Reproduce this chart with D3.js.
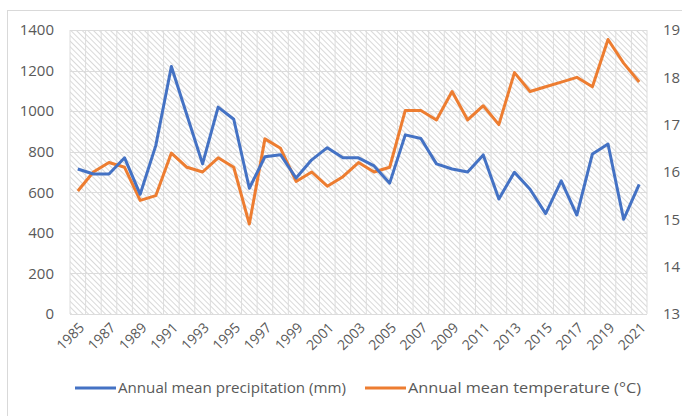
<!DOCTYPE html>
<html>
<head>
<meta charset="utf-8">
<script src="https://cdn.jsdelivr.net/npm/d3@7"></script>
<style>
  body { margin: 0; background: #fff; }
  text { font-family: "Open Sans", sans-serif; fill: #595959; }
</style>
</head>
<body>
<script>
var years = [1985,1986,1987,1988,1989,1990,1991,1992,1993,1994,1995,1996,1997,1998,1999,
             2000,2001,2002,2003,2004,2005,2006,2007,2008,2009,2010,2011,2012,2013,2014,
             2015,2016,2017,2018,2019,2020,2021];
var precipitation = [715,690,690,770,590,830,1220,980,740,1020,960,620,775,785,670,
                     760,820,770,770,730,645,883,865,740,715,700,784,567,699,615,
                     495,656,488,789,838,467,639];
var temperature = [15.6,16.0,16.2,16.1,15.4,15.5,16.4,16.1,16.0,16.3,16.1,14.9,16.7,16.5,15.8,
                   16.0,15.7,15.9,16.2,16.0,16.1,17.3,17.3,17.1,17.7,17.1,17.4,17.0,18.1,17.7,
                   17.8,17.9,18.0,17.8,18.8,18.3,17.9];
var leftTicks = [0,200,400,600,800,1000,1200,1400];
var rightTicks = [13,14,15,16,17,18,19];
var seriesNames = ["Annual mean precipitation (mm)", "Annual mean temperature (\u00B0C)"];
var colors = ["#4472C4", "#ED7D31"];

var width = 682, height = 416;
var plot = {left: 70, right: 647, top: 30, bottom: 314};

var svg = d3.select("body").append("svg")
            .attr("width", width)
            .attr("height", height);

// hatch pattern for plot background
var pat = svg.append("defs").append("pattern")
   .attr("id", "hatch")
   .attr("patternUnits", "userSpaceOnUse")
   .attr("width", 4).attr("height", 4)
   .attr("patternTransform", "rotate(-45)");
pat.append("line")
   .attr("x1", 0).attr("y1", 0).attr("x2", 0).attr("y2", 4)
   .attr("stroke", "#d2d2d2").attr("stroke-width", 1.7);

// chart border
svg.append("rect")
   .attr("x", 7.5).attr("y", 10.5)
   .attr("width", 700).attr("height", 420)
   .attr("fill", "none").attr("stroke", "#d9d9d9");

var x = d3.scaleBand()
          .domain(years)
          .range([plot.left, plot.right]);
var yL = d3.scaleLinear().domain([0, 1400]).range([plot.bottom, plot.top]);
var yR = d3.scaleLinear().domain([13, 19]).range([plot.bottom, plot.top]);

svg.append("rect")
   .attr("x", plot.left).attr("y", plot.top)
   .attr("width", plot.right - plot.left).attr("height", plot.bottom - plot.top)
   .attr("fill", "url(#hatch)");

// grid lines
var grid = svg.append("g").attr("stroke", "#dcdcdc").attr("stroke-width", 1);
grid.selectAll("line.h")
    .data(leftTicks)
    .enter().append("line")
    .attr("x1", plot.left).attr("x2", plot.right)
    .attr("y1", function(d) { return Math.round(yL(d)) + 0.5; })
    .attr("y2", function(d) { return Math.round(yL(d)) + 0.5; });
grid.selectAll("line.v")
    .data(years.concat(["end"]))
    .enter().append("line")
    .attr("x1", function(d) { return d === "end" ? plot.right : x(d); })
    .attr("x2", function(d) { return d === "end" ? plot.right : x(d); })
    .attr("y1", plot.top).attr("y2", plot.bottom);

// axes labels
svg.selectAll("text.yl")
   .data(leftTicks)
   .enter().append("text")
   .attr("x", 54)
   .attr("y", function(d) { return yL(d); })
   .attr("dy", "0.35em")
   .attr("text-anchor", "end")
   .attr("font-size", 15)
   .text(function(d) { return d; });

svg.selectAll("text.yr")
   .data(rightTicks)
   .enter().append("text")
   .attr("x", 663)
   .attr("y", function(d) { return yR(d); })
   .attr("dy", "0.35em")
   .attr("font-size", 15)
   .text(function(d) { return d; });

var cx = function(d) { return x(d) + x.bandwidth() / 2; };

svg.selectAll("text.xl")
   .data(years.filter(function(d, i) { return i % 2 === 0; }))
   .enter().append("text")
   .attr("transform", function(d) { return "translate(" + (cx(d) + 4) + "," + 325 + ") rotate(-45)"; })
   .attr("text-anchor", "end")
   .attr("dy", "0.35em")
   .attr("font-size", 14)
   .text(function(d) { return d; });

// lines
var lineL = d3.line()
   .x(function(d, i) { return cx(years[i]); })
   .y(function(d) { return yL(d); });
var lineR = d3.line()
   .x(function(d, i) { return cx(years[i]); })
   .y(function(d) { return yR(d); });

svg.append("path")
   .attr("d", lineR(temperature))
   .attr("fill", "none").attr("stroke", colors[1])
   .attr("stroke-width", 3).attr("stroke-linejoin", "round");
svg.append("path")
   .attr("d", lineL(precipitation))
   .attr("fill", "none").attr("stroke", colors[0])
   .attr("stroke-width", 3).attr("stroke-linejoin", "round");

// legend
var legendX = [75, 365];
var legend = svg.selectAll("g.legend")
   .data(seriesNames)
   .enter().append("g")
   .attr("transform", function(d, i) { return "translate(" + legendX[i] + ",388)"; });
legend.append("line")
   .attr("x1", 0).attr("x2", 41)
   .attr("stroke", function(d, i) { return colors[i]; })
   .attr("stroke-width", 3);
legend.append("text")
   .attr("x", 43)
   .attr("dy", "0.35em")
   .attr("font-size", 15)
   .attr("textLength", function(d, i) { return i === 0 ? 228 : 233; })
   .attr("lengthAdjust", "spacingAndGlyphs")
   .text(function(d) { return d; });
</script>
</body>
</html>
